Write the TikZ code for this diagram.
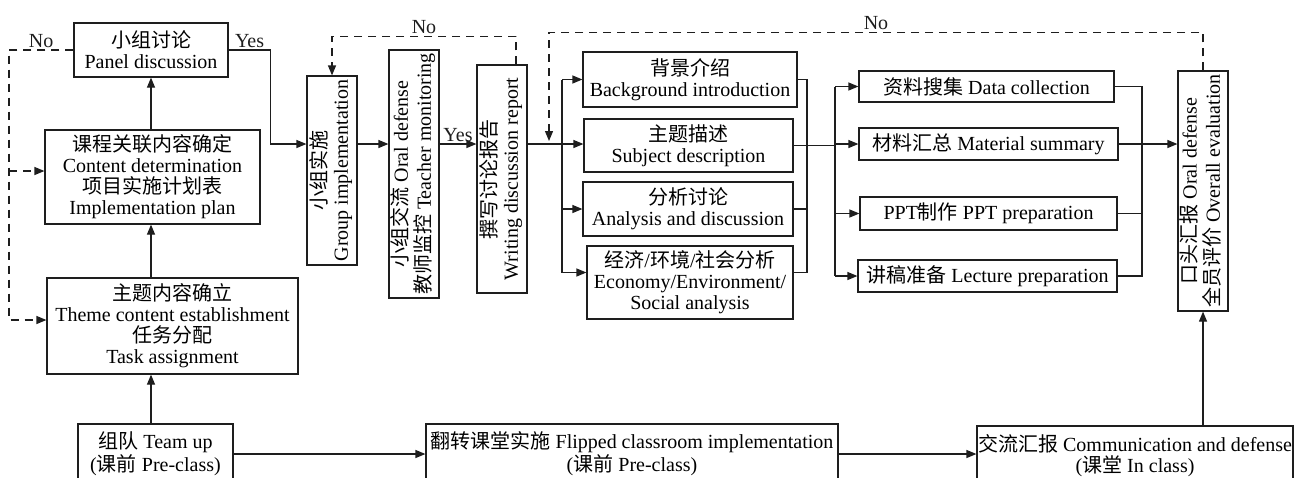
\documentclass[tikz,border=0pt]{standalone}
\usepackage{fontspec}
\setmainfont{Liberation Serif}
\newfontfamily\zh{Noto Sans CJK SC}
\usetikzlibrary{arrows.meta}
\newcommand\vlabel[1]{\rotatebox{90}{\begin{tabular}{@{}c@{}}#1\end{tabular}}}

\begin{document}
\begin{tikzpicture}[x=0.5pt,y=-0.5pt,
	>={Triangle[length=5pt,width=4pt]},
	box/.style={draw=BLACK, line width=0.6pt, align=center, inner sep=0pt, font=\fontsize{10}{10.5}\selectfont},
	link/.style={BLACK, line width=0.6pt},
	dashlink/.style={BLACK, line width=0.6pt, dash pattern=on 4pt off 3pt},
	tag/.style={font=\fontsize{10}{10.5}\selectfont, inner sep=1pt}]
	\definecolor{BLACK}{RGB}{30,30,30}
	\definecolor{WHITE}{RGB}{255,255,255}
	\useasboundingbox[fill=WHITE] (0,0) rectangle (1294,477);
	\node[box, minimum width=77pt, minimum height=27pt] (panel) at (151,50)
	{{\zh 小组讨论}\\Panel discussion};
	\node[box, minimum width=107.5pt, minimum height=47pt] (content) at (152.5,177)
	{{\zh 课程关联内容确定}\\Content determination\\{\zh 项目实施计划表}\\Implementation plan};
	\node[box, minimum width=125.5pt, minimum height=48pt] (theme) at (172.5,326)
	{{\zh 主题内容确立}\\Theme content establishment\\{\zh 任务分配}\\Task assignment};
	\node[box, minimum width=77.5pt, minimum height=30pt] (teamup) at (155.5,454)
	{{\zh 组队} Team up\\({\zh 课前} Pre-class)};
	\node[box, minimum width=25pt, minimum height=94.5pt] (groupimp) at (332,170.5)
	{\vlabel{{\zh 小组实施}\\Group implementation}};
	\node[box, minimum width=25pt, minimum height=124pt] (oraldef) at (414,174)
	{\vlabel{{\zh 小组交流} Oral defense\\{\zh 教师监控} Teacher monitoring}};
	\node[box, minimum width=25pt, minimum height=114pt] (writing) at (502,179)
	{\vlabel{{\zh 撰写讨论报告}\\Writing discussion report}};
	\node[box, minimum width=107pt, minimum height=27.5pt] (background) at (690,79.5)
	{{\zh 背景介绍}\\Background introduction};
	\node[box, minimum width=104.5pt, minimum height=26.5pt] (subject) at (688.5,145.5)
	{{\zh 主题描述}\\Subject description};
	\node[box, minimum width=105pt, minimum height=27pt] (analysis) at (688,209)
	{{\zh 分析讨论}\\Analysis and discussion};
	\node[box, minimum width=103pt, minimum height=36.5pt] (economy) at (690,282.5)
	{{\zh 经济}/{\zh 环境}/{\zh 社会分析}\\Economy/Environment/\\Social analysis};
	\node[box, minimum width=127.5pt, minimum height=15.5pt] (datacoll) at (986.5,86.5)
	{{\zh 资料搜集} Data collection};
	\node[box, minimum width=129.5pt, minimum height=16pt] (material) at (988.5,144)
	{{\zh 材料汇总} Material summary};
	\node[box, minimum width=128.5pt, minimum height=16.5pt] (ppt) at (988.5,213.5)
	{PPT{\zh 制作} PPT preparation};
	\node[box, minimum width=129.5pt, minimum height=16pt] (lecture) at (987.5,276)
	{{\zh 讲稿准备} Lecture preparation};
	\node[box, minimum width=25pt, minimum height=120pt] (overall) at (1203,191)
	{\vlabel{{\zh 口头汇报} Oral defense\\{\zh 全员评价} Overall evaluation}};
	\node[box, minimum width=206pt, minimum height=30pt] (flipped) at (632,454)
	{{\zh 翻转课堂实施} Flipped classroom implementation\\({\zh 课前} Pre-class)};
	\node[box, minimum width=158pt, minimum height=30pt] (commdef) at (1135,456)
	{{\zh 交流汇报} Communication and defense\\({\zh 课堂} In class)};
	\coordinate (flow) at (0,144);
	\coordinate (fb) at (9,0);
	\coordinate (split1) at (562,0);
	\coordinate (join1) at (807,0);
	\coordinate (split2) at (835,0);
	\coordinate (join2) at (1142,0);
	\coordinate (back2) at (549,141);
	\coordinate (cin) at ([yshift=3pt]content.west);
	\coordinate (tin) at ([yshift=3pt]theme.west);
	\coordinate (ein) at ([yshift=5pt]economy.west);
	\coordinate (eout) at ([yshift=5pt]economy.east);
	\draw[link,->] (teamup.north -| panel.south) -- (theme.south -| panel.south);
	\draw[link,->] (theme.north -| panel.south) -- (content.south -| panel.south);
	\draw[link,->] (content.north -| panel.south) -- (panel.south);
	\draw[dashlink,->] (panel.west) -| node[tag,pos=0.25,above]{No} (fb |- tin) -- (tin);
	\draw[dashlink,->] (fb |- cin) -- (cin);
	\draw[link,->] (panel.east) -- node[tag,above]{Yes} ++(42,0) |- (groupimp.west |- flow);
	\draw[link,->] (groupimp.east |- flow) -- (oraldef.west |- flow);
	\draw[link,->] (oraldef.east |- flow) -- node[tag,above]{Yes} (writing.west |- flow);
	\draw[dashlink,->] ([xshift=7pt]writing.north) -- ++(0,-28) -| node[tag,pos=0.25,above]{No} (groupimp.north);
	\draw[link,->] (writing.east |- flow) -- (subject.west |- flow);
	\draw[link] (split1 |- background.west) -- (split1 |- ein);
	\draw[link,->] (split1 |- background.west) -- (background.west);
	\draw[link,->] (split1 |- analysis.west) -- (analysis.west);
	\draw[link,->] (split1 |- ein) -- (ein);
	\draw[link] (background.east) -- (join1 |- background.east) -- (join1 |- eout) -- (eout);
	\draw[link] (analysis.east) -- (join1 |- analysis.east);
	\draw[link] (subject.east) -- (split2 |- subject.east);
	\draw[link] (split2 |- datacoll.west) -- (split2 |- lecture.west);
	\draw[link,->] (split2 |- datacoll.west) -- (datacoll.west);
	\draw[link,->] (split2 |- material.west) -- (material.west);
	\draw[link,->] (split2 |- ppt.west) -- (ppt.west);
	\draw[link,->] (split2 |- lecture.west) -- (lecture.west);
	\draw[link] (datacoll.east) -- (join2 |- datacoll.east) -- (join2 |- lecture.east) -- (lecture.east);
	\draw[link] (ppt.east) -- (join2 |- ppt.east);
	\draw[link,->] (material.east) -- (material.east -| overall.west);
	\draw[dashlink,->] (overall.north) -- ++(0,-38) -| node[tag,pos=0.25,above]{No} (back2);
	\draw[link,->] (teamup.east) -- (teamup.east -| flipped.west);
	\draw[link,->] (flipped.east) -- (flipped.east -| commdef.west);
	\draw[link,->] (commdef.north -| overall.south) -- (overall.south);
\end{tikzpicture}
\end{document}
